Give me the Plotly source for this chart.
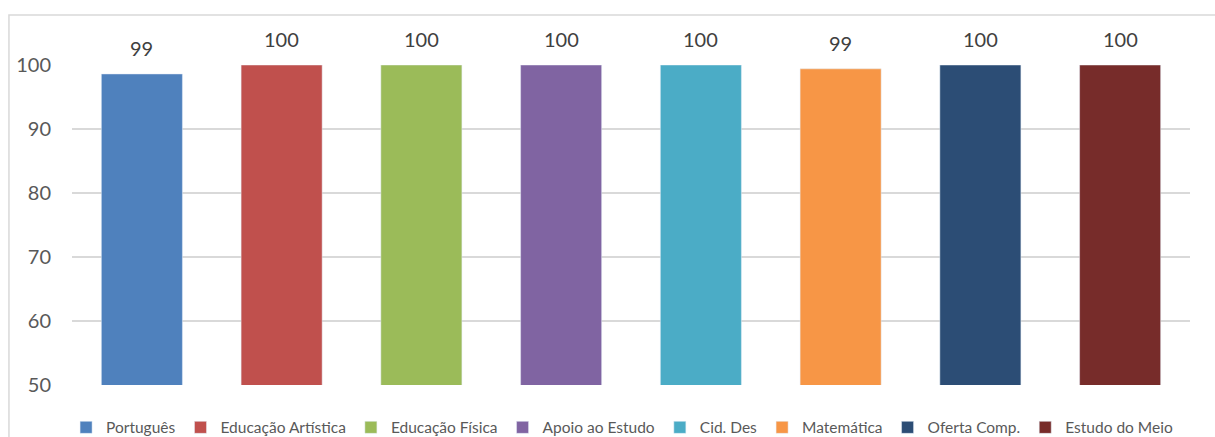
import plotly.graph_objects as go

categories = ["Português", "Educação Artística", "Educação Física", "Apoio ao Estudo",
              "Cid. Des", "Matemática", "Oferta Comp.", "Estudo do Meio"]
values = [98.6, 100, 100, 100, 100, 99.4, 100, 100]
colors = ["#4F81BD", "#C0504D", "#9BBB59", "#8064A2", "#4BACC6", "#F79646", "#2C4D75", "#772C2A"]
y_ticks = [50, 60, 70, 80, 90, 100]

FONT = "Lato"

fig = go.Figure()
for c, v, col in zip(categories, values, colors):
    fig.add_trace(go.Bar(x=[c], y=[v], name=c, marker_color=col, width=0.58,
                         hoverinfo="skip"))
    fig.add_annotation(x=c, y=v, text=f"{v:.0f}", showarrow=False, yanchor="bottom",
                       yshift=12, font=dict(family=FONT, size=20, color="#404040"))

fig.add_shape(type="rect", xref="paper", yref="paper", x0=-0.0564, x1=1.03, y0=-0.2, y1=1.156,
              line=dict(color="#D9D9D9", width=1.5), layer="below")

fig.update_layout(
    width=1215, height=437,
    margin=dict(l=72, r=25, t=65, b=52),
    paper_bgcolor="white", plot_bgcolor="white",
    barmode="overlay",
    showlegend=True,
    legend=dict(orientation="h", xref="container", yref="container",
                x=0.512, xanchor="center", y=0.06, yanchor="top",
                font=dict(family=FONT, size=15.5, color="#595959"),
                tracegroupgap=0, itemclick=False, bgcolor="rgba(0,0,0,0)"),
    xaxis=dict(showticklabels=False, showgrid=False, zeroline=False, showline=False,
               categoryorder="array", categoryarray=categories, range=[-0.5, 7.5]),
    yaxis=dict(range=[50, 100], tickvals=y_ticks, showgrid=True, gridcolor="#D9D9D9",
               gridwidth=1.5, zeroline=False, showline=False, ticks="",
               tickfont=dict(family=FONT, size=20, color="#595959"), ticklabelstandoff=20),
)

fig.write_html("out.html", config={"displayModeBar": False},
               post_script="document.body.style.margin='0';")
